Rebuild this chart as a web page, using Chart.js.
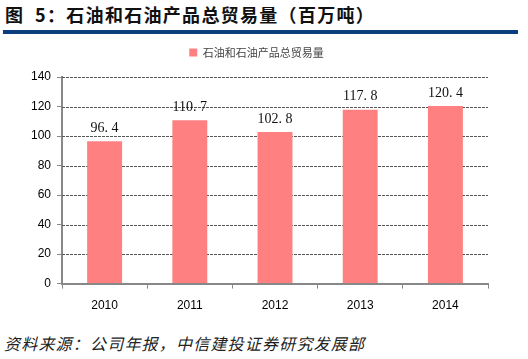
<!DOCTYPE html>
<html lang="zh">
<head>
<meta charset="UTF-8">
<title>石油和石油产品总贸易量</title>
<script src="https://cdn.jsdelivr.net/npm/chart.js"></script>
<style>
  body { margin: 0; width: 528px; height: 359px; background: #fff; position: relative; overflow: hidden; }
  #titulo { position: absolute; left: 5px; top: 1px; font: bold 18px "Noto Sans CJK SC", sans-serif; color: #111; letter-spacing: 1.3px; white-space: pre; }
  #linea { position: absolute; left: 3px; top: 30px; width: 515px; height: 4px; background: #0c3f7e; }
  #caja { position: absolute; left: 0; top: 37px; width: 528px; height: 286px; }
  #fuente { position: absolute; left: 4px; top: 331px; font: italic 16px "Noto Sans CJK SC", sans-serif; color: #222; letter-spacing: 1.2px; }
</style>
</head>
<body>
<div id="titulo">图  5：石油和石油产品总贸易量（百万吨）</div>
<div id="linea"></div>
<div id="caja"><canvas id="grafico"></canvas></div>
<div id="fuente">资料来源：公司年报，中信建投证券研究发展部</div>
<script>
  // datos
  let anios = ["2010", "2011", "2012", "2013", "2014"]
  let volumen = [96.4, 110.7, 102.8, 117.8, 120.4]
  let etiquetas = ["96. 4", "110. 7", "102. 8", "117. 8", "120. 4"]
  let nombreSerie = "石油和石油产品总贸易量"

  // espacio extra debajo de la leyenda
  let pluginLeyenda = {
    id: "espacioLeyenda",
    beforeInit(chart) {
      let fitOriginal = chart.legend.fit
      chart.legend.fit = function () {
        fitOriginal.bind(chart.legend)()
        this.height += 9
      }
    }
  }

  // lineas de cuadricula punteadas (debajo de las barras)
  let pluginCuadricula = {
    id: "cuadricula",
    beforeDatasetsDraw(chart) {
      let ctx = chart.ctx
      let area = chart.chartArea
      let ejeY = chart.scales.y
      ctx.save()
      ctx.strokeStyle = "#555"
      ctx.lineWidth = 1
      ctx.setLineDash([3, 1])
      ejeY.ticks.forEach(t => {
        if (t.value === 0) return
        let y = Math.round(ejeY.getPixelForValue(t.value)) + 0.5
        ctx.beginPath()
        ctx.moveTo(area.left, y)
        ctx.lineTo(area.right, y)
        ctx.stroke()
      })
      ctx.restore()
    }
  }

  // etiquetas encima de cada barra
  let pluginEtiquetas = {
    id: "etiquetas",
    afterDatasetsDraw(chart) {
      let ctx = chart.ctx
      let meta = chart.getDatasetMeta(0)
      ctx.save()
      ctx.font = "14px 'Liberation Serif', serif"
      ctx.fillStyle = "#111"
      ctx.textAlign = "center"
      ctx.textBaseline = "bottom"
      meta.data.forEach((barra, i) => {
        ctx.fillText(etiquetas[i], barra.x, barra.y - 6)
      })
      ctx.restore()
    }
  }

  let canvaDom = document.querySelector("#grafico")
  new Chart(canvaDom, {
    type: "bar",
    data: {
      labels: anios,
      datasets: [{
        label: nombreSerie,
        data: volumen,
        backgroundColor: "#ff8080",
        borderWidth: 0,
        categoryPercentage: 1,
        barPercentage: 0.41
      }]
    },
    options: {
      responsive: true,
      maintainAspectRatio: false,
      animation: false,
      layout: { padding: { left: 25, right: 40, top: 0, bottom: 0 } },
      plugins: {
        legend: {
          position: "top",
          labels: {
            boxWidth: 8,
            boxHeight: 8,
            color: "#444",
            font: { size: 11, family: "'Noto Sans CJK SC', sans-serif" },
            padding: 10
          }
        },
        tooltip: { enabled: false }
      },
      scales: {
        x: {
          grid: {
            display: true,
            drawOnChartArea: false,
            offset: true,
            tickLength: 5,
            color: "#888"
          },
          border: { color: "#888", width: 2 },
          ticks: { color: "#000", font: { size: 12, family: "Arial, 'Liberation Sans'" }, padding: 10 }
        },
        y: {
          min: 0,
          max: 140,
          ticks: { stepSize: 20, color: "#000", font: { size: 12, family: "Arial, 'Liberation Sans'" }, padding: 6 },
          grid: { drawOnChartArea: false, tickLength: 5, color: "#888" },
          border: { color: "#888", width: 2 }
        }
      }
    },
    plugins: [pluginLeyenda, pluginCuadricula, pluginEtiquetas]
  })
</script>
</body>
</html>
